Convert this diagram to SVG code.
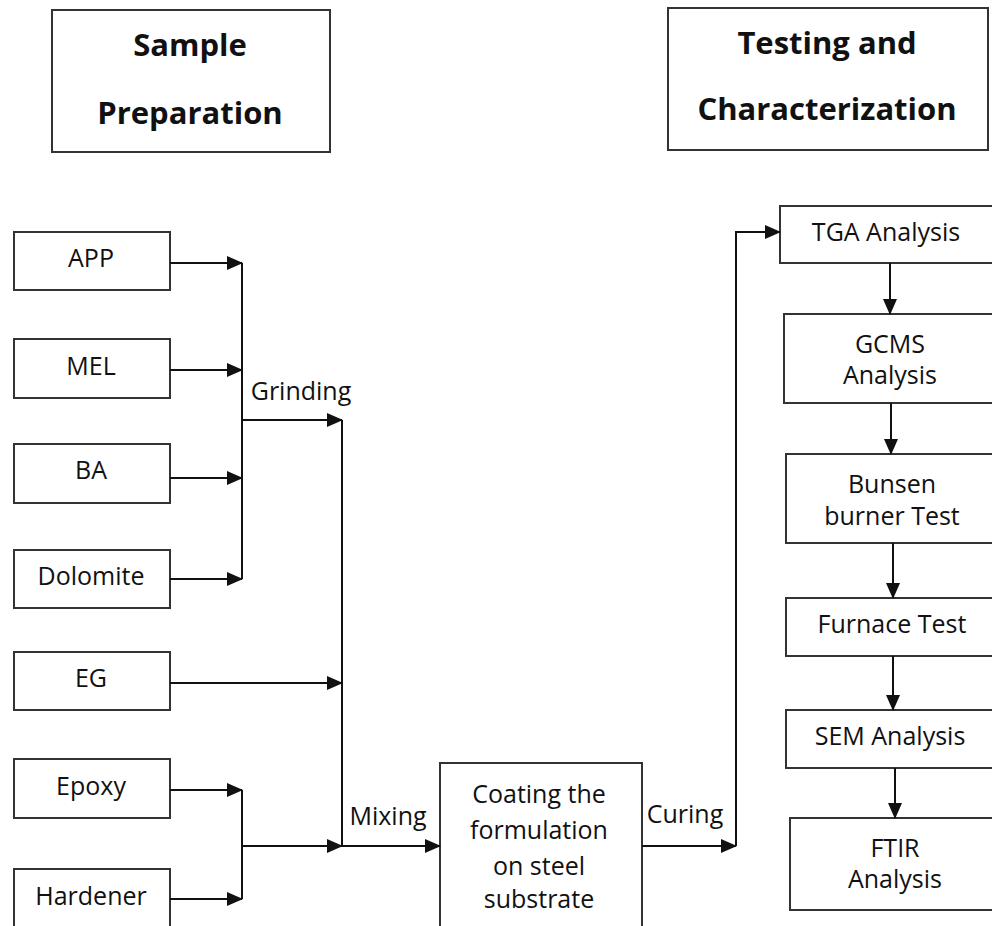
<svg xmlns="http://www.w3.org/2000/svg" width="992" height="926" viewBox="0 0 992 926">
<style>
.box{fill:#fff;stroke:#333;stroke-width:2}
.t{font-family:"Open Sans","Liberation Sans",sans-serif;font-size:25px;fill:#111;text-anchor:middle}
.h{font-family:"Open Sans","Liberation Sans",sans-serif;font-size:31px;font-weight:bold;fill:#111;text-anchor:middle}
.l{fill:none;stroke:#111;stroke-width:2}
</style>
<defs>
<marker id="a" markerUnits="userSpaceOnUse" markerWidth="16" markerHeight="14" refX="15" refY="7" orient="auto">
<path d="M0,0 L16,7 L0,14 Z" fill="#111"/>
</marker>
</defs>
<rect width="992" height="926" fill="#fff"/>
<g id="sample-prep"><rect class="box" x="52" y="10" width="278" height="142"/><text class="h" x="190" y="56">Sample</text><text class="h" x="190" y="124">Preparation</text></g>
<g id="testing"><rect class="box" x="668" y="8" width="320" height="142"/><text class="h" x="827" y="54">Testing and</text><text class="h" x="827" y="120">Characterization</text></g>
<g id="app"><rect class="box" x="14" y="232" width="156" height="58"/><text class="t" x="91" y="267">APP</text></g>
<g id="mel"><rect class="box" x="14" y="339" width="156" height="59"/><text class="t" x="91" y="375">MEL</text></g>
<g id="ba"><rect class="box" x="14" y="444" width="156" height="59"/><text class="t" x="91" y="479">BA</text></g>
<g id="dolomite"><rect class="box" x="14" y="550" width="156" height="58"/><text class="t" x="91" y="585">Dolomite</text></g>
<g id="eg"><rect class="box" x="14" y="652" width="156" height="58"/><text class="t" x="91" y="687">EG</text></g>
<g id="epoxy"><rect class="box" x="14" y="759" width="156" height="59"/><text class="t" x="91" y="795">Epoxy</text></g>
<g id="hardener"><rect class="box" x="14" y="869" width="156" height="70"/><text class="t" x="91" y="905">Hardener</text></g>
<g id="coating"><rect class="box" x="440" y="763" width="202" height="180"/><text class="t" x="539" y="803">Coating the</text><text class="t" x="539" y="839">formulation</text><text class="t" x="539" y="875">on steel</text><text class="t" x="539" y="908">substrate</text></g>
<g id="tga"><rect class="box" x="780" y="206" width="220" height="57"/><text class="t" x="886" y="241">TGA Analysis</text></g>
<g id="gcms"><rect class="box" x="784" y="314" width="220" height="89"/><text class="t" x="890" y="353">GCMS</text><text class="t" x="890" y="384">Analysis</text></g>
<g id="bunsen"><rect class="box" x="786" y="454" width="220" height="89"/><text class="t" x="892" y="493">Bunsen</text><text class="t" x="892" y="525">burner Test</text></g>
<g id="furnace"><rect class="box" x="786" y="598" width="220" height="58"/><text class="t" x="892" y="633">Furnace Test</text></g>
<g id="sem"><rect class="box" x="786" y="710" width="220" height="58"/><text class="t" x="890" y="745">SEM Analysis</text></g>
<g id="ftir"><rect class="box" x="790" y="818" width="220" height="92"/><text class="t" x="895" y="857">FTIR</text><text class="t" x="895" y="888">Analysis</text></g>
<g id="connectors">
<path class="l" d="M170,263 H242" marker-end="url(#a)"/>
<path class="l" d="M170,370 H242" marker-end="url(#a)"/>
<path class="l" d="M170,478 H242" marker-end="url(#a)"/>
<path class="l" d="M170,579 H242" marker-end="url(#a)"/>
<path class="l" d="M242,263 V579"/>
<path class="l" d="M242,420 H342" marker-end="url(#a)"/>
<path class="l" d="M342,420 V846"/>
<path class="l" d="M170,683 H342" marker-end="url(#a)"/>
<path class="l" d="M170,790 H242" marker-end="url(#a)"/>
<path class="l" d="M170,899 H242" marker-end="url(#a)"/>
<path class="l" d="M242,790 V899"/>
<path class="l" d="M242,846 H342" marker-end="url(#a)"/>
<path class="l" d="M342,846 H440" marker-end="url(#a)"/>
<path class="l" d="M642,846 H736" marker-end="url(#a)"/>
<path class="l" d="M736,846 V232 H780" marker-end="url(#a)"/>
<path class="l" d="M890,263 V314" marker-end="url(#a)"/>
<path class="l" d="M891,403 V454" marker-end="url(#a)"/>
<path class="l" d="M893,543 V598" marker-end="url(#a)"/>
<path class="l" d="M893,656 V710" marker-end="url(#a)"/>
<path class="l" d="M895,768 V818" marker-end="url(#a)"/>
<text class="t" x="301" y="400">Grinding</text>
<text class="t" x="388" y="825">Mixing</text>
<text class="t" x="685" y="823">Curing</text>
</g>
</svg>
